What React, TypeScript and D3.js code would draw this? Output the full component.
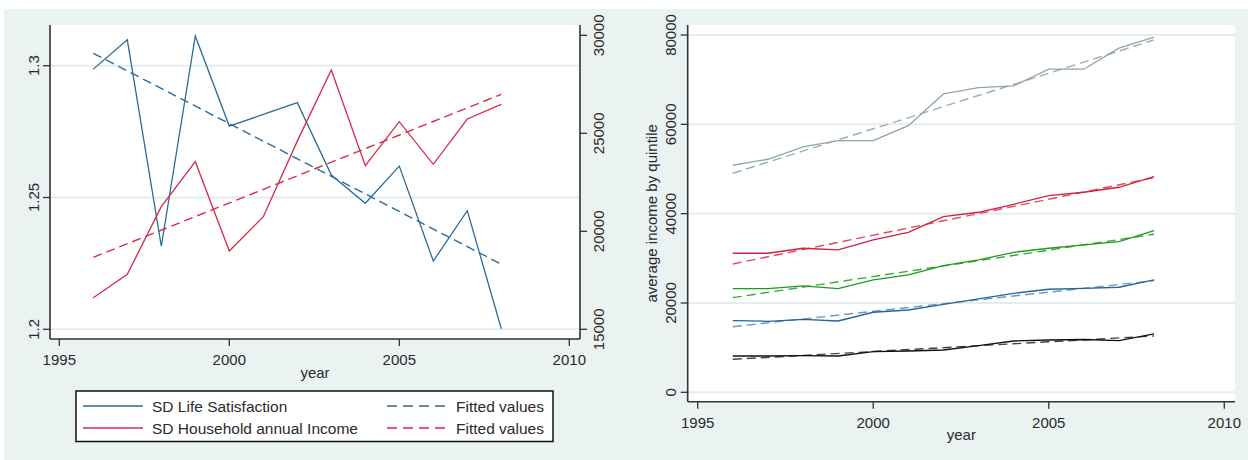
import React from "react";
import * as d3 from "d3";

// ---------- Data ----------
const years = [1996, 1997, 1998, 1999, 2000, 2001, 2002, 2003, 2004, 2005, 2006, 2007, 2008];
const fitYears = [1996, 2008];

// Left panel
const sdLifeSatisfaction = [1.2987, 1.3098, 1.2315, 1.3113, 1.2771, 1.2815, 1.286, 1.2585, 1.2478, 1.2619, 1.2259, 1.245, 1.2002];
const sdLifeFitted = [1.3047, 1.2247];
const sdIncome = [16612, 17806, 21255, 23551, 18995, 20745, 24600, 28230, 23347, 25592, 23418, 25730, 26480];
const sdIncomeFitted = [18673, 26990];

const leftXTicks = [1995, 2000, 2005, 2010];
const leftYTicks = [1.2, 1.25, 1.3];
const leftY2Ticks = [15000, 20000, 25000, 30000];
const legendLabels = ["SD Life Satisfaction", "SD Household annual Income", "Fitted values", "Fitted values"];

// Right panel (quintiles)
const q5 = [50840, 52180, 54940, 56350, 56350, 59710, 66810, 68220, 68600, 72340, 72340, 77040, 79510];
const q5Fit = [49050, 78900];
const q4 = [31130, 31130, 32250, 31870, 34110, 35830, 39330, 40310, 42100, 44030, 44790, 45910, 48290];
const q4Fit = [28730, 48070];
const q3 = [23200, 23200, 23810, 23200, 25150, 26270, 28350, 29630, 31350, 32250, 32990, 33730, 36190];
const q3Fit = [21190, 35380];
const q2 = [16040, 15900, 16350, 15970, 17920, 18430, 19710, 20900, 22170, 23070, 23290, 23520, 25150];
const q2Fit = [14690, 25000];
const q1 = [8130, 8130, 8200, 8130, 9090, 9250, 9470, 10440, 11490, 11710, 11820, 11560, 13060];
const q1Fit = [7390, 12610];

const rightXTicks = [1995, 2000, 2005, 2010];
const rightYTicks = [0, 20000, 40000, 60000, 80000];

// ---------- Styles ----------
const FONT = "'Liberation Sans', Arial, sans-serif";
const TXT = "#2a2a2a";
const BG = "#eaf2f2";
const GRID = "#e4eded";
const AXIS = "#333";
const BLUE = "#2f6a95";
const RED = "#d62a4c";

const quintiles = [
  { v: q5, fit: q5Fit, c: "#8fa79e", fc: "#9ab0a8" },
  { v: q4, fit: q4Fit, c: "#d21f42", fc: "#dc4a66" },
  { v: q3, fit: q3Fit, c: "#1f9a1f", fc: "#3aa63a" },
  { v: q2, fit: q2Fit, c: "#2a6394", fc: "#6b9cc4" },
  { v: q1, fit: q1Fit, c: "#111111", fc: "#444444" },
];

export default function App() {
  // Left panel scales
  const lx = d3.scaleLinear().domain([1995, 2010]).range([59.3, 569.3]);
  const ly = d3.scaleLinear().domain([1.2, 1.3]).range([329.3, 65.7]);
  const ly2 = d3.scaleLinear().domain([15000, 30000]).range([329.3, 35.3]);
  const L = { x0: 50, x1: 580, y0: 25, y1: 339 };

  // Right panel scales
  const rx = d3.scaleLinear().domain([1995, 2010]).range([697.7, 1224.3]);
  const ry = d3.scaleLinear().domain([0, 80000]).range([392.3, 35]);
  const R = { x0: 687.7, x1: 1235, y0: 25, y1: 401.7 };

  const mk = (xs: d3.ScaleLinear<number, number>, ys: d3.ScaleLinear<number, number>) =>
    d3.line<[number, number]>().x((d) => xs(d[0])).y((d) => ys(d[1]));

  const lineL = mk(lx, ly);
  const lineL2 = mk(lx, ly2);
  const lineR = mk(rx, ry);
  const pairs = (xs: number[], vs: number[]) => xs.map((x, i) => [x, vs[i]] as [number, number]);

  const dash = "9,5";

  return (
    <svg width={1248} height={460} style={{ position: "absolute", left: 0, top: 0, background: "#fff" }}>
      <rect x={4} y={9} width={1244} height={451} fill={BG} />

      {/* ===== Left panel ===== */}
      <rect x={L.x0} y={L.y0} width={L.x1 - L.x0} height={L.y1 - L.y0} fill="#fff" />
      {leftYTicks.map((t) => (
        <line key={"lg" + t} x1={L.x0} x2={L.x1} y1={ly(t)} y2={ly(t)} stroke={GRID} strokeWidth={2} />
      ))}
      <path d={lineL(pairs(fitYears, sdLifeFitted)) || ""} fill="none" stroke={BLUE} strokeWidth={1.4} strokeDasharray={dash} />
      <path d={lineL2(pairs(fitYears, sdIncomeFitted)) || ""} fill="none" stroke={RED} strokeWidth={1.4} strokeDasharray={dash} />
      <path d={lineL(pairs(years, sdLifeSatisfaction)) || ""} fill="none" stroke={BLUE} strokeWidth={1.3} />
      <path d={lineL2(pairs(years, sdIncome)) || ""} fill="none" stroke={RED} strokeWidth={1.3} />

      {/* axes */}
      <line x1={L.x0} x2={L.x0} y1={L.y0} y2={L.y1} stroke={AXIS} strokeWidth={1.6} />
      <line x1={L.x1} x2={L.x1} y1={L.y0} y2={L.y1} stroke={AXIS} strokeWidth={1.6} />
      <line x1={L.x0} x2={L.x1} y1={L.y1} y2={L.y1} stroke={AXIS} strokeWidth={1.6} />
      {leftYTicks.map((t) => (
        <g key={"ly" + t}>
          <line x1={L.x0 - 7} x2={L.x0} y1={ly(t)} y2={ly(t)} stroke={AXIS} strokeWidth={1.3} />
          <text transform={`translate(38.5,${ly(t)}) rotate(-90)`} textAnchor="middle" fontFamily={FONT} fontSize={15} fill={TXT}>
            {String(t)}
          </text>
        </g>
      ))}
      {leftY2Ticks.map((t) => (
        <g key={"ly2" + t}>
          <line x1={L.x1} x2={L.x1 + 7} y1={ly2(t)} y2={ly2(t)} stroke={AXIS} strokeWidth={1.3} />
          <text transform={`translate(604,${ly2(t)}) rotate(-90)`} textAnchor="middle" fontFamily={FONT} fontSize={15} fill={TXT}>
            {String(t)}
          </text>
        </g>
      ))}
      {leftXTicks.map((t) => (
        <g key={"lx" + t}>
          <line x1={lx(t)} x2={lx(t)} y1={L.y1} y2={L.y1 + 7} stroke={AXIS} strokeWidth={1.3} />
          <text x={lx(t)} y={365} textAnchor="middle" fontFamily={FONT} fontSize={15} fill={TXT}>
            {String(t)}
          </text>
        </g>
      ))}
      <text x={(L.x0 + L.x1) / 2} y={377.5} textAnchor="middle" fontFamily={FONT} fontSize={15} fill={TXT}>
        year
      </text>

      {/* legend */}
      <rect x={76} y={391} width={477} height={50.5} fill="#fff" stroke="#111" strokeWidth={1.5} />
      <line x1={83} x2={143} y1={406} y2={406} stroke={BLUE} strokeWidth={1.4} />
      <line x1={83} x2={143} y1={428} y2={428} stroke={RED} strokeWidth={1.4} />
      <text x={152} y={411.5} fontFamily={FONT} fontSize={15.5} fill={TXT}>{legendLabels[0]}</text>
      <text x={152} y={433.5} fontFamily={FONT} fontSize={15.5} fill={TXT}>{legendLabels[1]}</text>
      <line x1={387} x2={447} y1={406} y2={406} stroke={BLUE} strokeWidth={1.4} strokeDasharray="10,6" />
      <line x1={387} x2={447} y1={428} y2={428} stroke={RED} strokeWidth={1.4} strokeDasharray="10,6" />
      <text x={456} y={411.5} fontFamily={FONT} fontSize={15.5} fill={TXT}>{legendLabels[2]}</text>
      <text x={456} y={433.5} fontFamily={FONT} fontSize={15.5} fill={TXT}>{legendLabels[3]}</text>

      {/* ===== Right panel ===== */}
      <rect x={R.x0} y={R.y0} width={R.x1 - R.x0} height={R.y1 - R.y0} fill="#fff" />
      {rightYTicks.map((t) => (
        <line key={"rg" + t} x1={R.x0} x2={R.x1} y1={ry(t)} y2={ry(t)} stroke={GRID} strokeWidth={2} />
      ))}
      {quintiles.map((q, i) => (
        <g key={"q" + i}>
          <path d={lineR(pairs(fitYears, q.fit)) || ""} fill="none" stroke={q.fc} strokeWidth={1.4} strokeDasharray={dash} />
          <path d={lineR(pairs(years, q.v)) || ""} fill="none" stroke={q.c} strokeWidth={1.3} />
        </g>
      ))}
      <line x1={R.x0} x2={R.x0} y1={R.y0} y2={R.y1} stroke={AXIS} strokeWidth={1.6} />
      <line x1={R.x0} x2={R.x1} y1={R.y1} y2={R.y1} stroke={AXIS} strokeWidth={1.6} />
      {rightYTicks.map((t) => (
        <g key={"ry" + t}>
          <line x1={R.x0 - 7} x2={R.x0} y1={ry(t)} y2={ry(t)} stroke={AXIS} strokeWidth={1.3} />
          <text transform={`translate(675.5,${ry(t)}) rotate(-90)`} textAnchor="middle" fontFamily={FONT} fontSize={15} fill={TXT}>
            {String(t)}
          </text>
        </g>
      ))}
      {rightXTicks.map((t) => (
        <g key={"rx" + t}>
          <line x1={rx(t)} x2={rx(t)} y1={R.y1} y2={R.y1 + 7} stroke={AXIS} strokeWidth={1.3} />
          <text x={rx(t)} y={427.5} textAnchor="middle" fontFamily={FONT} fontSize={15} fill={TXT}>
            {String(t)}
          </text>
        </g>
      ))}
      <text x={(R.x0 + R.x1) / 2} y={439.5} textAnchor="middle" fontFamily={FONT} fontSize={15} fill={TXT}>
        year
      </text>
      <text transform={`translate(657,${(R.y0 + R.y1) / 2}) rotate(-90)`} textAnchor="middle" fontFamily={FONT} fontSize={15} fill={TXT}>
        average income by quintile
      </text>
    </svg>
  );
}
